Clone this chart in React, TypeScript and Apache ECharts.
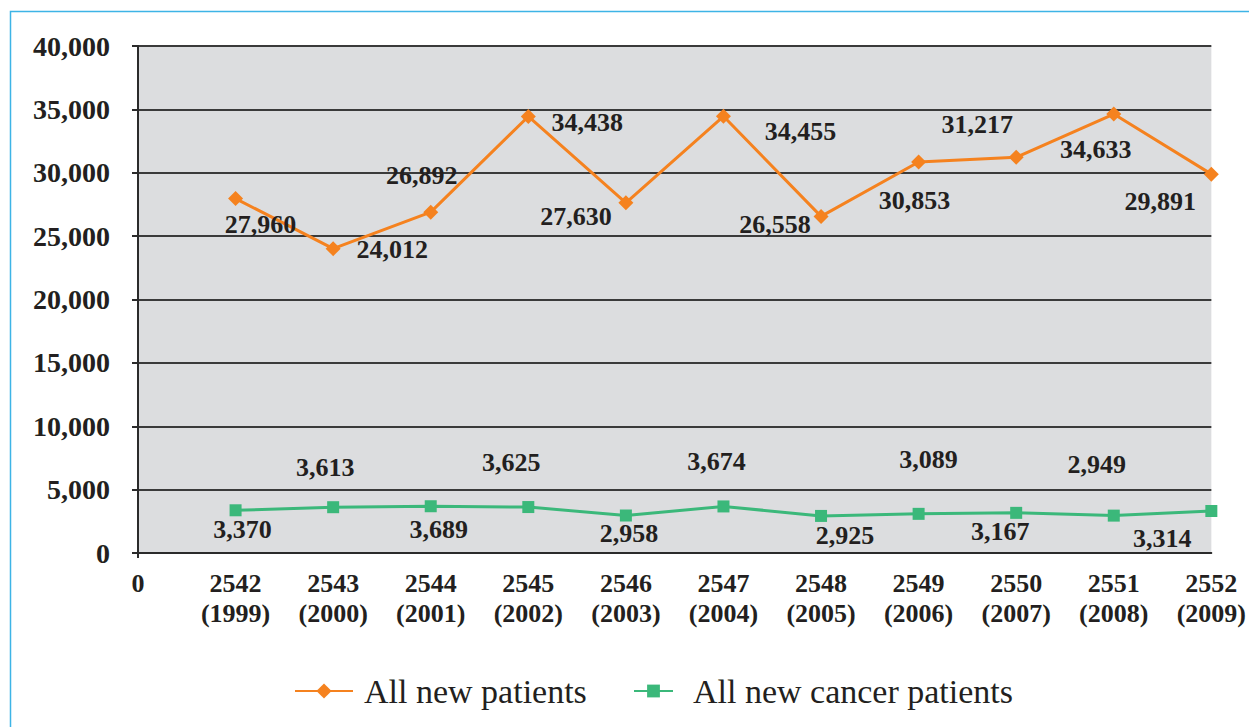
import React, { useEffect, useRef } from "react";
import * as echarts from "echarts";

const categories = [
  "0",
  "2542\n(1999)",
  "2543\n(2000)",
  "2544\n(2001)",
  "2545\n(2002)",
  "2546\n(2003)",
  "2547\n(2004)",
  "2548\n(2005)",
  "2549\n(2006)",
  "2550\n(2007)",
  "2551\n(2008)",
  "2552\n(2009)",
];

const allNewPatients = [27960, 24012, 26892, 34438, 27630, 34455, 26558, 30853, 31217, 34633, 29891];
const allNewCancerPatients = [3370, 3613, 3689, 3625, 2958, 3674, 2925, 3089, 3167, 2949, 3314];

const orangeLabelOffsets = [
  [25, 26], [59, 1], [-9, -37], [59, 6], [-50, 14], [77, 15],
  [-46, 8], [-4, 39], [-39, -33], [-18, 35], [-51, 27],
];
const greenLabelOffsets = [
  [7, 19], [-8, -40], [8, 23], [-17, -45], [3, 18], [-7, -45],
  [24, 20], [10, -54], [-16, 19], [-17, -51], [-49, 28],
];

const TEXT = "#231F20";
const SERIF = "'Liberation Serif', 'Times New Roman', serif";
const ORANGE = "#F5821F";
const GREEN = "#3BB87A";

const fmt = (v: number) => v.toLocaleString("en-US");

function buildData(values: number[], offsets: number[][]) {
  const out: any[] = ["-"];
  values.forEach((v, i) => {
    out.push({ value: v, label: { offset: offsets[i] } });
  });
  return out;
}

export default function App() {
  const ref = useRef<HTMLDivElement>(null);
  useEffect(() => {
    document.body.style.margin = "0";
    const chart = echarts.init(ref.current!, undefined, { renderer: "svg" });
    const labelStyle = {
      show: true,
      position: "inside",
      fontFamily: SERIF,
      fontWeight: "bold",
      fontSize: 26,
      color: TEXT,
      formatter: (p: any) => fmt(p.value),
    };
    chart.setOption({
      animation: false,
      backgroundColor: "#ffffff",
      graphic: [
        {
          type: "rect",
          shape: { x: 10.5, y: 11.5, width: 1400, height: 900 },
          style: { fill: "none", stroke: "#3DB4E6", lineWidth: 1.5 },
          silent: true,
          z: -10,
        },
      ],
      grid: {
        left: 138,
        right: 36,
        top: 46,
        bottom: 174,
        show: true,
        backgroundColor: "#DCDDDF",
        borderWidth: 0,
      },
      legend: [
        {
          data: ["All new patients"],
          left: 294,
          top: 671,
          padding: 0,
          itemWidth: 58,
          itemHeight: 19,
          textStyle: {
            fontFamily: SERIF,
            fontSize: 34,
            color: TEXT,
            lineHeight: 40,
            padding: [0, 0, 0, 6],
          },
        },
        {
          data: ["All new cancer patients"],
          left: 633,
          top: 671,
          padding: 0,
          itemWidth: 39,
          itemHeight: 16,
          textStyle: {
            fontFamily: SERIF,
            fontSize: 34,
            color: TEXT,
            lineHeight: 40,
            padding: [0, 0, 0, 15],
          },
        },
      ],
      xAxis: {
        type: "category",
        data: categories,
        boundaryGap: false,
        axisLine: { show: true, lineStyle: { color: "#2b2b2b", width: 2 } },
        axisTick: {
          show: true,
          length: 5,
          interval: (idx: number) => idx === 0,
          lineStyle: { color: "#2b2b2b", width: 2 },
        },
        axisLabel: {
          interval: 0,
          fontFamily: SERIF,
          fontWeight: "bold",
          fontSize: 26,
          lineHeight: 30,
          color: TEXT,
          margin: 15,
        },
        splitLine: { show: false },
      },
      yAxis: {
        type: "value",
        min: 0,
        max: 40000,
        interval: 5000,
        axisLine: { show: true, lineStyle: { color: "#2b2b2b", width: 2 } },
        axisTick: { show: true, length: 6, lineStyle: { color: "#2b2b2b", width: 2 } },
        axisLabel: {
          fontFamily: SERIF,
          fontWeight: "bold",
          fontSize: 28,
          color: TEXT,
          margin: 28,
          formatter: (v: number) => fmt(v),
        },
        splitLine: { show: true, lineStyle: { color: "#3a3a3a", width: 2 } },
      },
      series: [
        {
          name: "All new patients",
          type: "line",
          data: buildData(allNewPatients, orangeLabelOffsets),
          symbol: "diamond",
          symbolSize: 15,
          color: ORANGE,
          itemStyle: { color: ORANGE },
          lineStyle: { color: ORANGE, width: 3 },
          label: labelStyle,
          z: 3,
        },
        {
          name: "All new cancer patients",
          type: "line",
          data: buildData(allNewCancerPatients, greenLabelOffsets),
          symbol: "rect",
          symbolSize: 12,
          color: GREEN,
          itemStyle: { color: GREEN },
          lineStyle: { color: GREEN, width: 3 },
          label: labelStyle,
          z: 3,
        },
      ],
    });
    return () => chart.dispose();
  }, []);
  return (
    <div
      ref={ref}
      style={{ position: "absolute", left: 0, top: 0, width: 1249, height: 727 }}
    />
  );
}
